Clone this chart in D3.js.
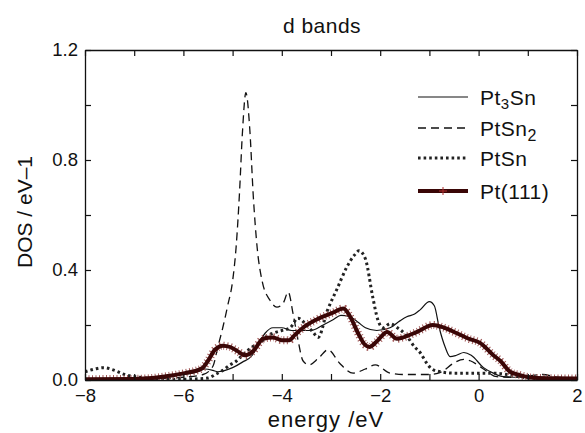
<!DOCTYPE html>
<html>
<head>
<meta charset="utf-8">
<script src="https://cdn.jsdelivr.net/npm/d3@7"></script>
<style>
  body { margin: 0; background: #fff; }
  text { font-family: "Liberation Sans", Arial, sans-serif; fill: #111; }
</style>
</head>
<body>
<div id="chart"></div>
<script>
// axis ticks
const xTicks = [-8, -7, -6, -5, -4, -3, -2, -1, 0, 1, 2];
const yTicks = [0, 0.2, 0.4, 0.6, 0.8, 1.0, 1.2];
const yLabelled = [0, 0.4, 0.8, 1.2];

// Pt3Sn (thin solid)
const pt3snE = [-8, -7, -6.5, -6, -5.7, -5.56, -5.4, -5.3, -5.15, -5.0, -4.8, -4.6, -4.45, -4.34, -4.18, -4.0, -3.8, -3.6, -3.4, -3.16, -2.95, -2.8, -2.61, -2.45, -2.3, -2.07, -1.8, -1.6, -1.46, -1.3, -1.19, -1.0, -0.9, -0.8, -0.68, -0.58, -0.45, -0.3, -0.15, 0.1, 0.3, 0.5, 0.8, 1.2, 1.6, 2];
const pt3snV = [0.002, 0.004, 0.008, 0.02, 0.03, 0.04, 0.035, 0.03, 0.035, 0.045, 0.065, 0.09, 0.14, 0.17, 0.19, 0.19, 0.18, 0.18, 0.18, 0.2, 0.22, 0.235, 0.23, 0.21, 0.19, 0.18, 0.19, 0.215, 0.23, 0.24, 0.255, 0.285, 0.27, 0.19, 0.12, 0.085, 0.09, 0.1, 0.09, 0.045, 0.025, 0.012, 0.01, 0.01, 0.008, 0.005];

// PtSn2 (dashed)
const ptsn2E = [-8, -7, -6.5, -6, -5.6, -5.4, -5.3, -5.2, -5.1, -5.0, -4.93, -4.86, -4.8, -4.73, -4.65, -4.58, -4.5, -4.4, -4.24, -4.1, -3.97, -3.87, -3.77, -3.67, -3.57, -3.45, -3.25, -3.06, -2.82, -2.55, -2.3, -2.1, -1.8, -1.5, -1.0, -0.75, -0.52, -0.3, -0.17, 0.1, 0.37, 0.7, 1.0, 1.3, 1.6, 2];
const ptsn2V = [0.002, 0.003, 0.005, 0.01, 0.02, 0.05, 0.12, 0.19, 0.27, 0.36, 0.48, 0.68, 0.9, 1.045, 0.91, 0.67, 0.48, 0.36, 0.29, 0.265, 0.28, 0.32, 0.24, 0.145, 0.07, 0.055, 0.08, 0.11, 0.06, 0.025, 0.04, 0.055, 0.025, 0.02, 0.02, 0.03, 0.06, 0.075, 0.07, 0.04, 0.012, 0.01, 0.015, 0.02, 0.01, 0.005];

// PtSn (dotted)
const ptsnE = [-8, -7.8, -7.63, -7.4, -7.2, -6.9, -6.64, -6.3, -6.0, -5.75, -5.5, -5.35, -5.2, -5.05, -4.95, -4.8, -4.6, -4.44, -4.3, -4.18, -4.0, -3.83, -3.67, -3.5, -3.37, -3.26, -3.08, -2.88, -2.68, -2.52, -2.43, -2.3, -2.15, -2.05, -1.94, -1.8, -1.65, -1.46, -1.3, -1.19, -1.05, -0.95, -0.78, -0.5, 0, 0.3, 0.58, 0.9, 1.2, 1.6, 2];
const ptsnV = [0.03, 0.04, 0.045, 0.035, 0.02, 0.01, 0.005, 0.003, 0.003, 0.004, 0.007, 0.02, 0.035, 0.055, 0.065, 0.09, 0.12, 0.135, 0.16, 0.17, 0.18, 0.19, 0.225, 0.2, 0.175, 0.155, 0.25, 0.33, 0.41, 0.455, 0.47, 0.44, 0.30, 0.22, 0.19, 0.205, 0.19, 0.16, 0.12, 0.1, 0.06, 0.04, 0.03, 0.025, 0.025, 0.025, 0.02, 0.01, 0.005, 0.003, 0.002];

// Pt(111) (thick with + markers)
const pt111E = [-8, -7, -6.64, -6.3, -5.97, -5.62, -5.5, -5.36, -5.2, -5.05, -4.9, -4.75, -4.58, -4.38, -4.18, -4.0, -3.85, -3.73, -3.57, -3.29, -2.96, -2.75, -2.61, -2.45, -2.32, -2.22, -2.07, -1.86, -1.66, -1.53, -1.25, -0.93, -0.7, -0.44, -0.2, 0.03, 0.3, 0.44, 0.64, 0.84, 1.1, 1.5, 2];
const pt111V = [0.003, 0.004, 0.007, 0.015, 0.025, 0.043, 0.07, 0.11, 0.125, 0.12, 0.105, 0.09, 0.105, 0.15, 0.155, 0.145, 0.145, 0.165, 0.19, 0.22, 0.245, 0.26, 0.23, 0.17, 0.13, 0.12, 0.14, 0.175, 0.15, 0.155, 0.175, 0.2, 0.19, 0.17, 0.15, 0.135, 0.09, 0.07, 0.03, 0.018, 0.008, 0.006, 0.005];

const series = [
  {name: "Pt3Sn", E: pt3snE, V: pt3snV, style: "solid"},
  {name: "PtSn2", E: ptsn2E, V: ptsn2V, style: "dashed"},
  {name: "PtSn", E: ptsnE, V: ptsnV, style: "dotted"},
  {name: "Pt(111)", E: pt111E, V: pt111V, style: "thick"}
];

// dimensions
const W = 585, H = 433;
const margin = {top: 50, right: 8, bottom: 53, left: 85};
const width = W - margin.left - margin.right,
      height = H - margin.top - margin.bottom;

const svg = d3.select("#chart")
  .append("svg")
    .attr("width", W)
    .attr("height", H);

const g = svg.append("g")
  .attr("transform", `translate(${margin.left}, ${margin.top})`);

const x = d3.scaleLinear().domain([-8, 2]).range([0, width]);
const y = d3.scaleLinear().domain([0, 1.2]).range([height, 0]);

g.append("defs").append("clipPath").attr("id", "clip")
  .append("rect").attr("width", width).attr("height", height);

const line = d3.line()
  .x(d => x(d[0]))
  .y(d => y(d[1]))
  .curve(d3.curveMonotoneX);

const plot = g.append("g").attr("clip-path", "url(#clip)");

function styleLine(sel, style) {
  if (style === "solid") sel.attr("stroke", "#111").attr("stroke-width", 1.2);
  if (style === "dashed") sel.attr("stroke", "#111").attr("stroke-width", 1.3).attr("stroke-dasharray", "8,5");
  if (style === "dotted") sel.attr("stroke", "#222").attr("stroke-width", 3).attr("stroke-dasharray", "2.6,3");
}

series.forEach(s => {
  const pts = s.E.map((e, i) => [e, s.V[i]]);
  if (s.style === "thick") {
    // + markers make a reddish fringe around the dark thick line
    plot.append("path").datum(pts)
      .attr("fill", "none")
      .attr("stroke", "#a25a5a")
      .attr("stroke-width", 8)
      .attr("stroke-dasharray", "1,2.5")
      .attr("d", line);
    plot.append("path").datum(pts)
      .attr("fill", "none")
      .attr("stroke", "#3a0606")
      .attr("stroke-width", 4)
      .attr("d", line);
  } else {
    plot.append("path").datum(pts)
      .attr("fill", "none")
      .call(styleLine, s.style)
      .attr("d", line);
  }
});

// axes: ticks pointing inward on all four sides
const fmtX = d => (d % 2 === 0 ? d3.format("d")(d) : "");
const fmtY = d => (yLabelled.some(v => Math.abs(v - d) < 1e-9) ? d3.format(".1f")(d) : "");

g.append("g")
  .attr("class", "axis")
  .attr("transform", `translate(0, ${height})`)
  .call(d3.axisBottom(x).tickValues(xTicks).tickSizeInner(-6).tickSizeOuter(0).tickPadding(9).tickFormat(fmtX));
g.append("g")
  .attr("class", "axis")
  .call(d3.axisTop(x).tickValues(xTicks).tickSizeInner(-6).tickSizeOuter(0).tickFormat(""));
g.append("g")
  .attr("class", "axis")
  .call(d3.axisLeft(y).tickValues(yTicks).tickSizeInner(-6).tickSizeOuter(0).tickPadding(7).tickFormat(fmtY));
g.append("g")
  .attr("class", "axis")
  .attr("transform", `translate(${width}, 0)`)
  .call(d3.axisRight(y).tickValues(yTicks).tickSizeInner(-6).tickSizeOuter(0).tickFormat(""));

g.selectAll(".axis path").attr("stroke", "#111").attr("stroke-width", 1.3);
g.selectAll(".axis line").attr("stroke", "#111").attr("stroke-width", 1.2);
g.selectAll(".axis text")
  .style("font-family", "'Liberation Sans', Arial, sans-serif")
  .style("font-size", "18.5px")
  .attr("fill", "#111");

// title and axis labels
svg.append("text")
  .attr("x", 322).attr("y", 33)
  .attr("text-anchor", "middle")
  .style("font-size", "21px")
  .style("letter-spacing", "0.5px")
  .text("d bands");

svg.append("text")
  .attr("x", 326).attr("y", 427)
  .attr("text-anchor", "middle")
  .style("font-size", "22px")
  .style("letter-spacing", "1px")
  .text("energy /eV");

svg.append("text")
  .attr("transform", "translate(32, 212) rotate(-90)")
  .attr("text-anchor", "middle")
  .style("font-size", "21px")
  .text("DOS / eV\u20131");

// legend
const legend = svg.append("g");
const legY = [97, 128, 158, 191];
series.forEach((s, i) => {
  const row = legend.append("g").attr("transform", `translate(0, ${legY[i]})`);
  if (s.style === "thick") {
    row.append("line").attr("x1", 418).attr("x2", 468)
      .attr("stroke", "#3a0606").attr("stroke-width", 4);
    row.append("path").attr("d", "M443,-4V4M439,0H447")
      .attr("stroke", "#b03030").attr("stroke-width", 1);
  } else {
    row.append("line").attr("x1", 418).attr("x2", 468)
      .call(styleLine, s.style);
  }
  const t = row.append("text").attr("x", 480).attr("y", 8)
    .style("font-size", "21px").style("letter-spacing", "0.5px");
  if (s.name === "Pt3Sn") {
    t.append("tspan").text("Pt");
    t.append("tspan").attr("dy", 4).style("font-size", "15px").text("3");
    t.append("tspan").attr("dy", -4).text("Sn");
  } else if (s.name === "PtSn2") {
    t.append("tspan").text("PtSn");
    t.append("tspan").attr("dy", 5).style("font-size", "16px").text("2");
  } else {
    t.text(s.name);
  }
});
</script>
</body>
</html>
